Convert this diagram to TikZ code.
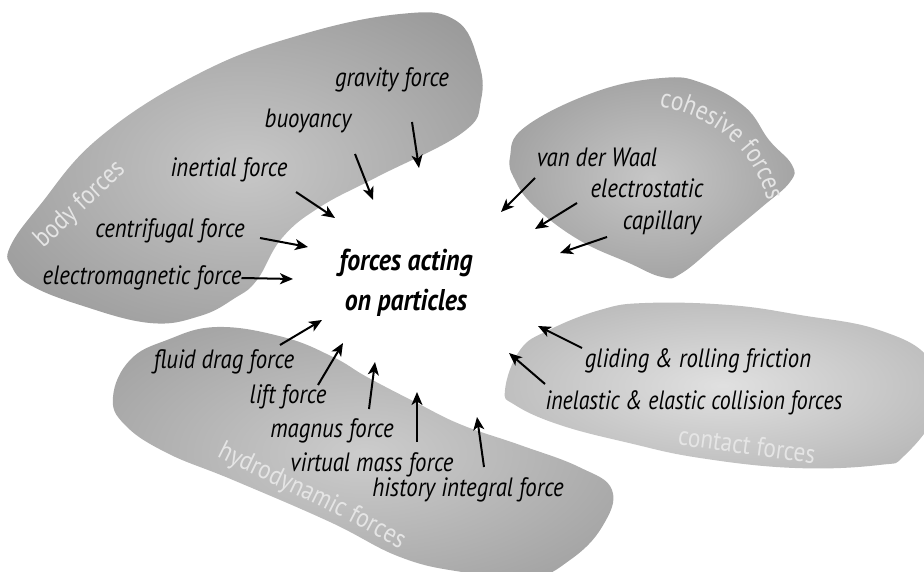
\documentclass[tikz,border=0pt]{standalone}
\usepackage{fontspec}
\setmainfont{PT Sans}[FakeStretch=0.86]
\usetikzlibrary{arrows.meta,decorations.text}

\pgfdeclareradialshading[blobin,blobout]{blob}{\pgfpoint{0bp}{0bp}}{color(0bp)=(blobin); color(46bp)=(blobout); color(70bp)=(blobout)}

\tikzset{
  blob/.code 2 args={\colorlet{blobin}{#1}\colorlet{blobout}{#2}\pgfkeysalso{/tikz/shading=blob}},
  lbl/.style={font=\fontsize{26.5}{28}\selectfont\itshape, inner sep=0pt},
  grp/.style={font=\fontsize{27}{28}\selectfont, text=black!10, inner sep=0pt},
  force/.style={line width=2pt, -{Stealth[length=13pt,width=11pt,inset=3.5pt]}}
}

\begin{document}
\begin{tikzpicture}[x=1pt,y=-1pt]
  \useasboundingbox (0,0) rectangle (924,572);
  % the four groups of forces
  \path[blob={black!22}{black!47}] plot[smooth cycle, tension=0.7] coordinates {
    (10,247) (40,205) (100,137) (200,73) (300,35) (400,14) (455,20) (478,60)
    (481,100) (462,133) (377,177) (320,207) (282,238) (257,280) (235,298)
    (200,316) (150,323) (80,305) (30,285) (12,267)};
  \path[blob={black!22}{black!47}] plot[smooth cycle, tension=0.7] coordinates {
    (510,157) (525,127) (595,92) (662,78) (702,83) (745,107) (769,140)
    (792,165) (790,182) (762,207) (722,240) (682,273) (662,277) (629,263)
    (579,240) (535,207) (515,180)};
  \path[blob={black!12}{black!36}] plot[smooth cycle, tension=0.7] coordinates {
    (505,390) (520,350) (549,330) (600,310) (645,303) (729,305) (800,315)
    (879,330) (930,360) (936,410) (905,455) (879,465) (795,468) (700,458)
    (629,443) (560,425) (515,405)};
  \path[blob={black!20}{black!44}] plot[smooth cycle, tension=0.7] coordinates {
    (113,397) (130,360) (167,340) (217,327) (283,337) (333,357) (367,377)
    (417,403) (462,425) (520,445) (579,467) (612,490) (602,527) (570,560)
    (530,578) (462,572) (400,557) (330,522) (233,480) (167,453) (125,425)};

  % group names
  \node[grp, rotate=43] (body) at (80,205) {body forces};
  \node[grp, rotate=-8] (cont) at (747,445) {contact forces};
  \path[decorate, decoration={text along path, text align=center, text color=black!10,
      text={|\fontsize{27}{28}\selectfont|cohesive forces}}]
    (645,104) .. controls (712,112) and (760,150) .. (770,215);
  \path[decorate, decoration={text along path, text align=center, text color=black!10,
      text={|\fontsize{27}{28}\selectfont|hydrodynamic forces}}]
    (208,452) .. controls (270,484) and (338,512) .. (408,554);

  % centre
  \node[font=\fontsize{30}{40}\selectfont\bfseries\itshape, align=center] (part) at (406,283)
    {forces acting\\on particles};

  % single forces
  \node[lbl] (grav) at (392,80) {gravity force};
  \node[lbl] (buoy) at (308,121) {buoyancy};
  \node[lbl] (iner) at (229,170) {inertial force};
  \node[lbl] (cent) at (170,231) {centrifugal force};
  \node[lbl] (elmag) at (142,278) {electromagnetic force};
  \node[lbl] (vdw) at (597,157) {van der Waal};
  \node[lbl] (elst) at (647,188) {electrostatic};
  \node[lbl] (capi) at (662,223) {capillary};
  \node[lbl] (drag) at (224,362) {fluid drag force};
  \node[lbl] (lift) at (288,397) {lift force};
  \node[lbl] (magn) at (332,431) {magnus force};
  \node[lbl] (virt) at (372,465) {virtual mass force};
  \node[lbl] (hist) at (468,490) {history integral force};
  \node[lbl] (glid) at (698,361) {gliding \& rolling friction};
  \node[lbl, xscale=0.96] (inel) at (694,403) {inelastic \& elastic collision forces};

  % arrow ends
  \coordinate (grav-a) at (412,122);  \coordinate (grav-b) at (419,168);
  \coordinate (buoy-a) at (355,154);  \coordinate (buoy-b) at (373,200);
  \coordinate (iner-a) at (296,192);  \coordinate (iner-b) at (335,218);
  \coordinate (cent-a) at (260,238);  \coordinate (cent-b) at (308,247);
  \coordinate (elmag-a) at (elmag.east); \coordinate (elmag-b) at (293,279);
  \coordinate (vdw-a) at (535,178);   \coordinate (vdw-b) at (501,212);
  \coordinate (elst-a) at (577,203);  \coordinate (elst-b) at (535,229);
  \coordinate (capi-a) at (607,237);  \coordinate (capi-b) at (560,253);
  \coordinate (drag-a) at (280,345);  \coordinate (drag-b) at (322,320);
  \coordinate (lift-a) at (318,385);  \coordinate (lift-b) at (343,343);
  \coordinate (magn-a) at (369,409);  \coordinate (magn-b) at (375,362);
  \coordinate (virt-a) at (417,442);  \coordinate (virt-b) at (417,392);
  \coordinate (hist-a) at (484,467);  \coordinate (hist-b) at (477,417);
  \coordinate (glid-a) at (582,348);  \coordinate (glid-b) at (538,326);
  \coordinate (inel-a) at (545,384);  \coordinate (inel-b) at (509,353);

  \foreach \f in {grav,buoy,iner,cent,elmag,vdw,elst,capi,drag,lift,magn,virt,hist,glid,inel}
    \draw[force] (\f-a) -- (\f-b);
\end{tikzpicture}
\end{document}
